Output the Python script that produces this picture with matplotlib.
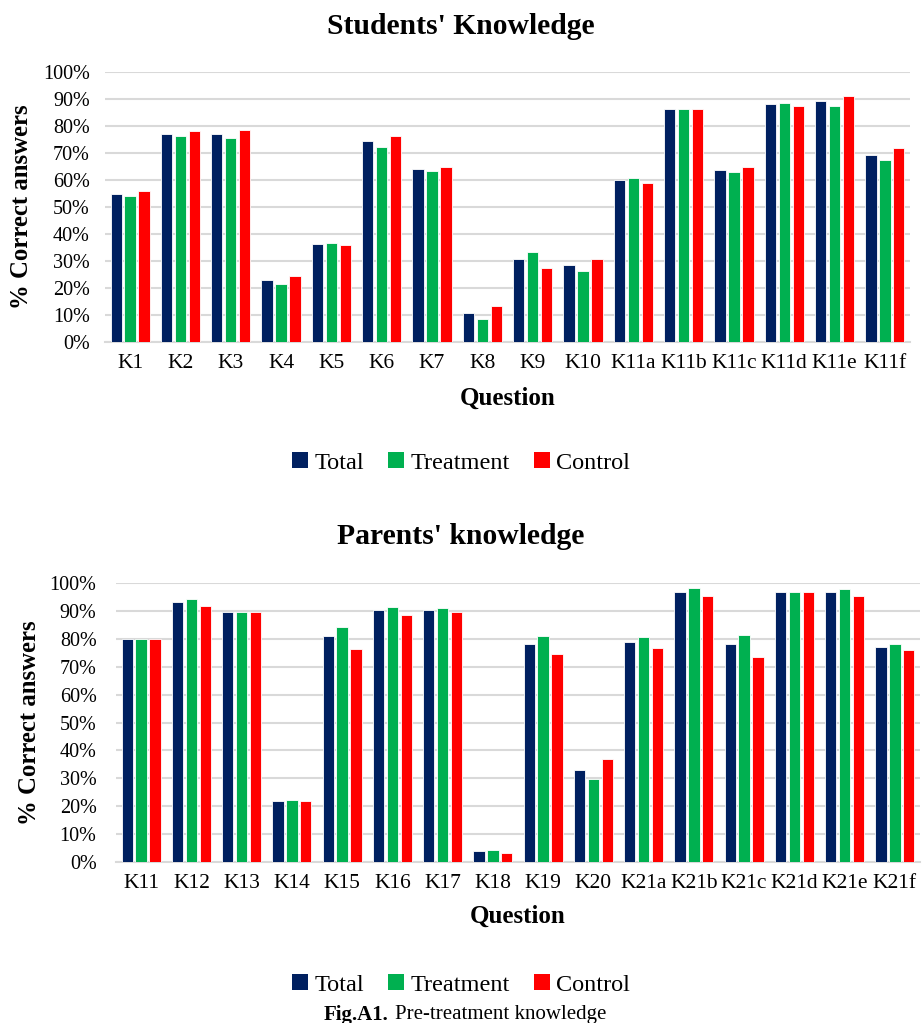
import numpy as np
import matplotlib
matplotlib.use("Agg")
import matplotlib.pyplot as plt
from matplotlib.patches import Patch
from matplotlib.ticker import PercentFormatter

plt.rcParams['font.family'] = ['Liberation Serif', 'DejaVu Serif']

# students' knowledge, share of correct answers (%)
stud_q = ["K1", "K2", "K3", "K4", "K5", "K6", "K7", "K8", "K9", "K10",
          "K11a", "K11b", "K11c", "K11d", "K11e", "K11f"]
stud_total = [54.9, 77.2, 77.0, 22.8, 36.4, 74.3, 64.1, 10.7, 30.6, 28.5,
              59.9, 86.4, 63.8, 88.0, 89.1, 69.4]
stud_treat = [54.2, 76.2, 75.6, 21.5, 36.5, 72.3, 63.5, 8.5, 33.5, 26.4,
              60.7, 86.4, 62.8, 88.4, 87.5, 67.4]
stud_ctrl = [55.9, 78.3, 78.6, 24.3, 35.9, 76.4, 64.8, 13.3, 27.3, 30.9,
             58.9, 86.4, 64.7, 87.5, 91.0, 71.7]

# parents' knowledge
par_q = ["K11", "K12", "K13", "K14", "K15", "K16", "K17", "K18", "K19", "K20",
         "K21a", "K21b", "K21c", "K21d", "K21e", "K21f"]
par_total = [79.9, 93.3, 89.5, 22.0, 81.0, 90.2, 90.3, 3.8, 78.3, 32.8,
             78.9, 96.9, 78.1, 96.8, 96.6, 77.1]
par_treat = [79.9, 94.1, 89.5, 22.4, 84.4, 91.4, 90.9, 4.2, 81.0, 29.8,
             80.6, 98.1, 81.4, 96.8, 97.7, 78.1]
par_ctrl = [79.8, 91.9, 89.5, 21.7, 76.4, 88.6, 89.5, 3.4, 74.7, 36.8,
            76.6, 95.3, 73.5, 96.8, 95.3, 75.9]

series = ["Total", "Treatment", "Control"]
colors = ["#002060", "#00B050", "#FF0000"]

W, H = 922, 1023
fig = plt.figure(figsize=(W / 100, H / 100), dpi=100)


def draw(rect, title, title_y, labels, groups, ylab_x, qlab_y, legend_y, ypad):
    ax = fig.add_axes(rect)
    x = np.arange(len(labels))
    bw, step = 0.225, 0.278
    for i, (vals, c) in enumerate(zip(groups, colors)):
        ax.bar(x + (i - 1) * step, vals, width=bw, color=c,
               edgecolor="white", linewidth=0.6, zorder=3)
    ax.set_xlim(-0.5, len(labels) - 0.5)
    ax.set_ylim(0, 100)
    ax.set_yticks(np.arange(0, 101, 10))
    ax.yaxis.set_major_formatter(PercentFormatter(decimals=0))
    ax.set_xticks(x)
    ax.set_xticklabels(labels)
    ax.grid(axis="y", color="#D9D9D9", linewidth=1.5, zorder=0)
    for s in ["top", "right", "left"]:
        ax.spines[s].set_visible(False)
    ax.spines["bottom"].set_color("#D9D9D9")
    ax.spines["bottom"].set_linewidth(1.5)
    ax.tick_params(length=0, labelsize=14.5)
    ax.tick_params(axis="x", pad=9, labelsize=15.5)
    ax.tick_params(axis="y", pad=ypad)
    ax.set_ylabel("% Correct answers", fontsize=17.8, fontweight="bold")
    ax.yaxis.set_label_coords(ylab_x, 0.5)
    ax.set_xlabel("Question", fontsize=18, fontweight="bold")
    ax.xaxis.set_label_coords(0.5, qlab_y)
    fig.text(0.5, 1 - title_y / H, title, ha="center", va="center",
             fontsize=21.3, fontweight="bold")
    handles = [Patch(facecolor=c, label=s) for s, c in zip(series, colors)]
    fig.legend(handles=handles, loc="center", bbox_to_anchor=(0.5, 1 - legend_y / H),
               ncol=3, frameon=False, fontsize=17.5, handlelength=0.65,
               handleheight=0.65, handletextpad=0.25, columnspacing=1.0)
    return ax


draw([105 / W, 1 - 342 / H, 805 / W, 270 / H], "Students' Knowledge", 26,
     stud_q, [stud_total, stud_treat, stud_ctrl], -0.09, -0.165, 463, 11)
draw([116 / W, 1 - 862 / H, 804 / W, 279 / H], "Parents' knowledge", 537,
     par_q, [par_total, par_treat, par_ctrl], -0.093, -0.155, 985, 14)

fig.text(388 / W, 1 - 1015 / H, "Fig.A1.", ha="right", va="center",
         fontsize=15, fontweight="bold")
fig.text(395 / W, 1 - 1015 / H, "Pre-treatment knowledge", ha="left",
         va="center", fontsize=15)

fig.savefig("out.png", dpi=100)
